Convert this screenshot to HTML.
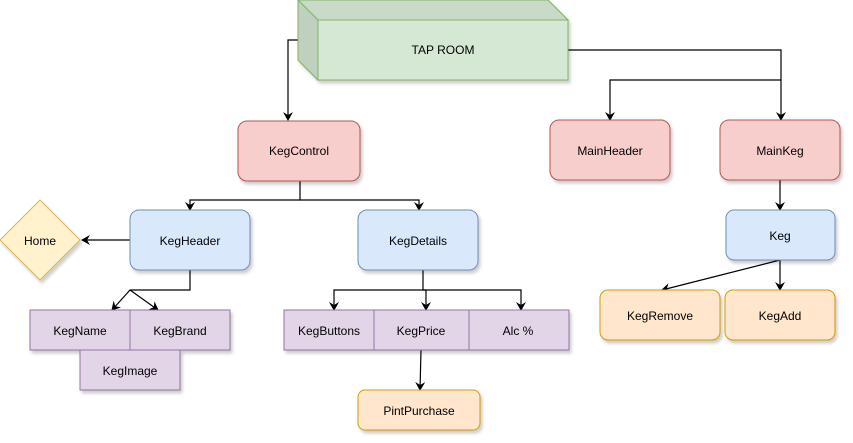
<!DOCTYPE html>
<html><head><meta charset="utf-8"><style>body{margin:0;background:#fff}svg{display:block}</style></head><body>
<svg width="853" height="443" viewBox="0 0 853 443" xmlns="http://www.w3.org/2000/svg" font-family="Liberation Sans, sans-serif" font-size="12" text-anchor="middle">
<defs>
<marker id="a" markerWidth="10" markerHeight="10" refX="8" refY="5" orient="auto" markerUnits="userSpaceOnUse"><path d="M0,0 L9,5 L0,10 L3,5 z" fill="#000"/></marker>
<filter id="s" x="-10%" y="-10%" width="130%" height="140%"><feDropShadow dx="2" dy="3" stdDeviation="1.5" flood-opacity="0.2"/></filter>
</defs>
<g fill="none" stroke="#000" stroke-width="1.2">
<path d="M298,40 H288 V120" marker-end="url(#a)"/>
<path d="M568,50 H781 V120" marker-end="url(#a)"/>
<path d="M781,80 H610 V120" marker-end="url(#a)"/>
<path d="M300,181 V200 H190 V210" marker-end="url(#a)"/>
<path d="M300,200 H419 V210" marker-end="url(#a)"/>
<path d="M130,240 H82" marker-end="url(#a)"/>
<path d="M190,270 V290 H130 L112,310" marker-end="url(#a)"/>
<path d="M130,290 L158,310" marker-end="url(#a)"/>
<path d="M423,270 V290 H334 V310" marker-end="url(#a)"/>
<path d="M423,290 H521 V310" marker-end="url(#a)"/>
<path d="M423,290 H426 V310" marker-end="url(#a)"/>
<path d="M421,350 L420,390" marker-end="url(#a)"/>
<path d="M780,180 V210" marker-end="url(#a)"/>
<path d="M780,260 V290" marker-end="url(#a)"/>
<path d="M780,260 L662,290" marker-end="url(#a)"/>
</g>
<g filter="url(#s)">
<path d="M298,0 H548 L568,20 V80 H318 L298,60 Z" fill="#d5e8d4" stroke="#82b366"/>
</g>
<path d="M298,0 H548 L568,20 H318 Z" fill="#c9dbc8" stroke="#82b366"/>
<path d="M298,0 L318,20 V80 L298,60 Z" fill="#bfd1be" stroke="#82b366"/>
<rect x="318" y="20" width="250" height="60" fill="#d5e8d4" stroke="#82b366"/>
<text x="443" y="54">TAP ROOM</text>
<g filter="url(#s)" stroke-width="1">
<rect x="238" y="121" width="122" height="60" rx="9" fill="#f8cecc" stroke="#b85450"/>
<rect x="550" y="120" width="120" height="60" rx="9" fill="#f8cecc" stroke="#b85450"/>
<rect x="720" y="120" width="120" height="60" rx="9" fill="#f8cecc" stroke="#b85450"/>
<rect x="130" y="210" width="120" height="60" rx="9" fill="#dae8fc" stroke="#6c8ebf"/>
<rect x="358" y="210" width="120" height="60" rx="9" fill="#dae8fc" stroke="#6c8ebf"/>
<rect x="726" y="210" width="109" height="50" rx="8" fill="#dae8fc" stroke="#6c8ebf"/>
<path d="M40,200 L80,240 L40,280 L0,240 Z" fill="#fff2cc" stroke="#d6b656"/>
<rect x="30" y="310" width="100" height="40" fill="#e1d5e7" stroke="#9673a6"/>
<rect x="130" y="310" width="100" height="40" fill="#e1d5e7" stroke="#9673a6"/>
<rect x="80" y="350" width="100" height="40" fill="#e1d5e7" stroke="#9673a6"/>
<rect x="284" y="310" width="90" height="40" fill="#e1d5e7" stroke="#9673a6"/>
<rect x="374" y="310" width="95" height="40" fill="#e1d5e7" stroke="#9673a6"/>
<rect x="469" y="310" width="100" height="40" fill="#e1d5e7" stroke="#9673a6"/>
<rect x="358" y="390" width="122" height="40" rx="7" fill="#ffe6cc" stroke="#d79b00"/>
<rect x="600" y="290" width="120" height="50" rx="8" fill="#ffe6cc" stroke="#d79b00"/>
<rect x="725" y="290" width="110" height="50" rx="8" fill="#ffe6cc" stroke="#d79b00"/>
</g>
<g fill="#000">
<text x="299" y="155">KegControl</text>
<text x="610" y="155">MainHeader</text>
<text x="780" y="155">MainKeg</text>
<text x="190" y="245">KegHeader</text>
<text x="418" y="245">KegDetails</text>
<text x="780" y="240">Keg</text>
<text x="40" y="245">Home</text>
<text x="80" y="335">KegName</text>
<text x="180" y="335">KegBrand</text>
<text x="130" y="375">KegImage</text>
<text x="329" y="335">KegButtons</text>
<text x="421" y="335">KegPrice</text>
<text x="518" y="335">Alc %</text>
<text x="419" y="415">PintPurchase</text>
<text x="660" y="320">KegRemove</text>
<text x="780" y="320">KegAdd</text>
</g>
</svg>
</body></html>
